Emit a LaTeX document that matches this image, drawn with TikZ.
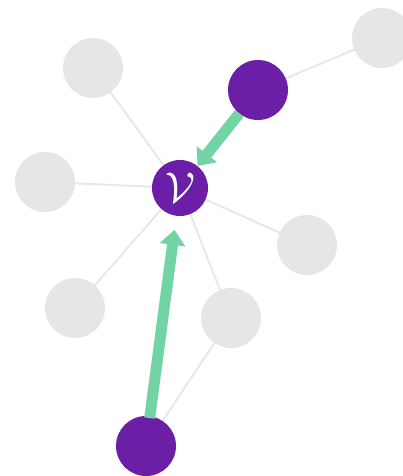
\documentclass[tikz,border=0pt]{standalone}
\usetikzlibrary{arrows.meta,backgrounds}
\definecolor{vpurple}{HTML}{6A1FA6}
\definecolor{ngray}{HTML}{E6E6E6}
\definecolor{egray}{HTML}{E8E8E8}
\definecolor{mint}{HTML}{72D3A4}
\tikzset{
  graynode/.style={circle,fill=ngray,minimum size=60pt,inner sep=0pt},
  purplenode/.style={circle,fill=vpurple,minimum size=60pt,inner sep=0pt},
  centernode/.style={circle,fill=vpurple,minimum size=56pt,inner sep=0pt,text=white},
  edge/.style={draw=egray,line width=2pt},
  garrow/.style={draw=mint,line width=11pt,-{Triangle[width=25pt,length=15pt]}}
}
\begin{document}
\begin{tikzpicture}[x=1pt,y=-1pt]
\useasboundingbox (0,0) rectangle (403,476);
\node[centernode] (v) at (180,188) {\scalebox{4.3}{$\mathcal{V}$}};
\node[graynode] (tl) at (93,68) {};
\node[graynode] (tr) at (382,38) {};
\node[purplenode] (p1) at (258,90) {};
\node[graynode] (l) at (45,182) {};
\node[graynode] (r) at (307,245) {};
\node[graynode] (ll) at (75,308) {};
\node[graynode] (lr) at (231,318) {};
\node[purplenode] (p2) at (146,446) {};
\begin{scope}[on background layer]
\path[edge] (v.center) -- (tl.center);
\path[edge] (v.center) -- (l.center);
\path[edge] (v.center) -- (r.center);
\path[edge] (v.center) -- (ll.center);
\path[edge] (v.center) -- (lr.center);
\path[edge] (p1.center) -- (tr.center);
\path[edge] (lr.center) -- (p2.center);
\end{scope}
\path[garrow] (p1) -- (v);
\path[garrow,shorten >=14pt,shorten <=-2pt] (p2) -- (v);
\end{tikzpicture}
\end{document}
